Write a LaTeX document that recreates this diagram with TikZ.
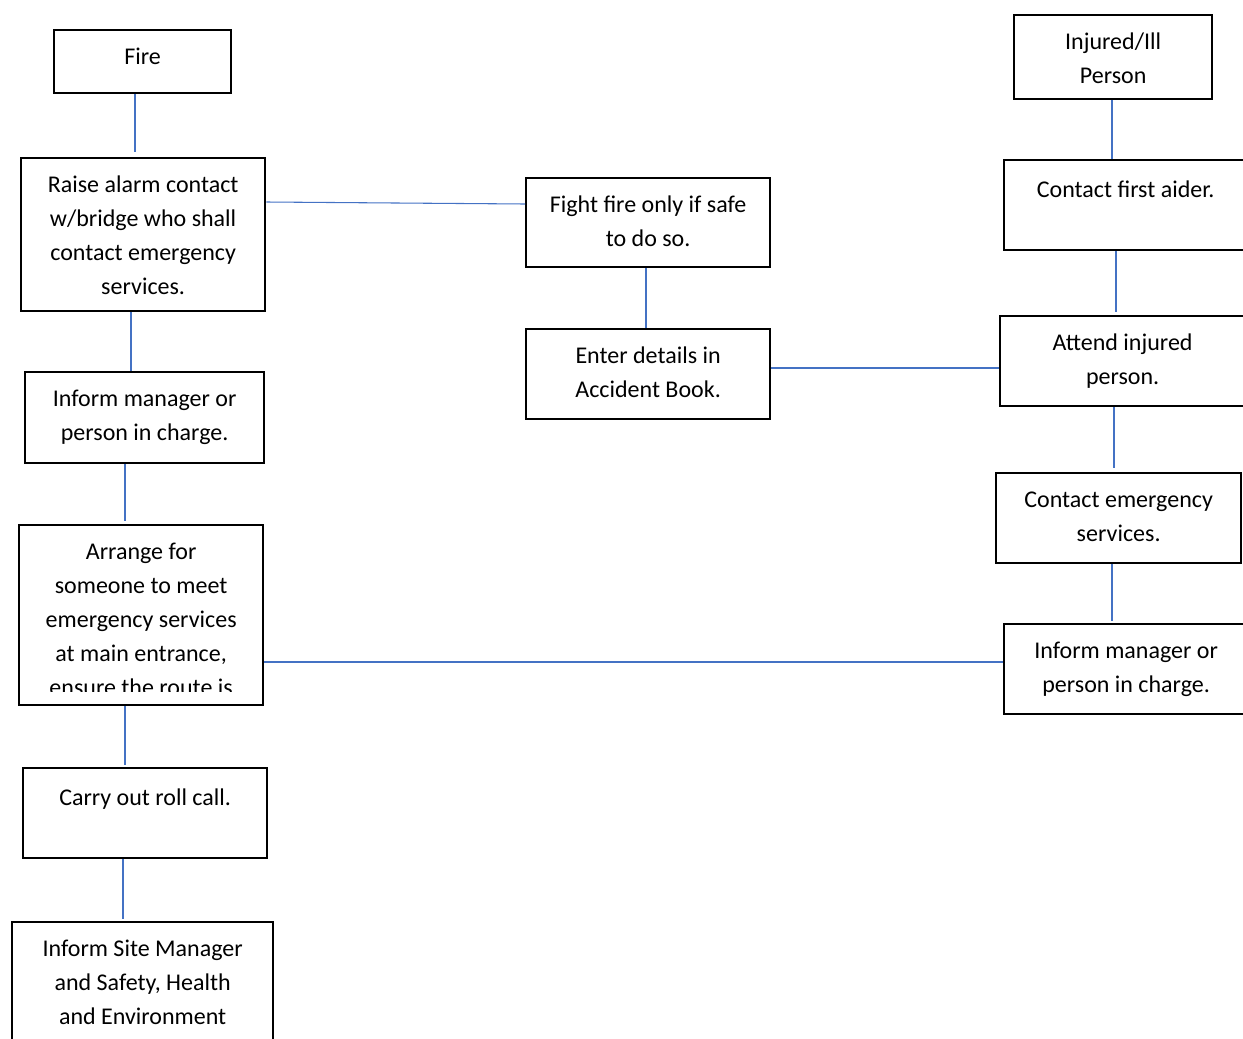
\documentclass[tikz,border=0pt]{standalone}
\usepackage{fontspec}
\setmainfont{Carlito}
\definecolor{linkblue}{HTML}{4472C4}
\newcommand{\mytxt}[1]{\parbox[t]{260pt}{\centering #1}}
\tikzset{
  box/.style n args={2}{draw=black, line width=1.7pt, rectangle, inner sep=0pt,
    anchor=north west, minimum width={#1*0.75pt}, minimum height={#2*0.75pt}},
  txt/.style={anchor=base, inner sep=0pt, font=\fontsize{18pt}{25.5pt}\selectfont},
  conn/.style={draw=linkblue, line width=0.8pt}
}
\begin{document}
\begin{tikzpicture}[x=0.75pt,y=-0.75pt]
\useasboundingbox (0,0) rectangle (1243,1039);
\clip (0,0) rectangle (1243,1039);

% boxes
\node[box={177}{63}]  (fire)   at (53,29) {};
\node[box={244}{153}] (raise)  at (20,157) {};
\node[box={239}{91}]  (infL)   at (24,371) {};
\node[box={244}{180}] (arr)    at (18,524) {};
\node[box={244}{90}]  (roll)   at (22,767) {};
\node[box={261}{139}] (site)   at (11,921) {};
\node[box={244}{89}]  (fight)  at (525,177) {};
\node[box={244}{90}]  (enter)  at (525,328) {};
\node[box={198}{84}]  (inj)    at (1013,14) {};
\node[box={243}{90}]  (first)  at (1003,159) {};
\node[box={245}{90}]  (attend) at (999,315) {};
\node[box={245}{90}]  (cem)    at (995,472) {};
\node[box={244}{90}]  (infR)   at (1003,623) {};

% texts
\node[txt] (fire-t)   at ([yshift=-26.25pt]fire.north)   {\mytxt{Fire}};
\node[txt] (raise-t)  at ([yshift=-26.25pt]raise.north)  {\mytxt{Raise alarm contact\\w/bridge who shall\\contact emergency\\services.}};
\node[txt] (infL-t)   at ([yshift=-26.25pt]infL.north)   {\mytxt{Inform manager or\\person in charge.}};
\begin{scope}
  \clip (18,524) rectangle (262,691);
  \node[txt] (arr-t) at ([yshift=-26.25pt]arr.north) {\mytxt{Arrange for\\someone to meet\\emergency services\\at main entrance,\\ensure the route is}};
\end{scope}
\node[txt] (roll-t)   at ([yshift=-28.5pt]roll.north)    {\mytxt{Carry out roll call.}};
\node[txt] (site-t)   at ([yshift=-26.25pt]site.north)   {\mytxt{Inform Site Manager\\and Safety, Health\\and Environment}};
\node[txt] (fight-t)  at ([yshift=-26.25pt]fight.north)  {\mytxt{Fight fire only if safe\\to do so.}};
\node[txt] (enter-t)  at ([yshift=-26.25pt]enter.north)  {\mytxt{Enter details in\\Accident Book.}};
\node[txt] (inj-t)    at ([yshift=-26.25pt]inj.north)    {\mytxt{Injured/Ill\\Person}};
\node[txt] (first-t)  at ([yshift=-28.5pt]first.north)   {\mytxt{Contact first aider.}};
\node[txt] (attend-t) at ([yshift=-26.25pt]attend.north) {\mytxt{Attend injured\\person.}};
\node[txt] (cem-t)    at ([yshift=-26.25pt]cem.north)    {\mytxt{Contact emergency\\services.}};
\node[txt] (infR-t)   at ([yshift=-26.25pt]infR.north)   {\mytxt{Inform manager or\\person in charge.}};

% connector guide coordinates
\coordinate (v1) at (135,0);
\coordinate (v2) at (131,0);
\coordinate (v3) at (125,0);
\coordinate (v5) at (123,0);
\coordinate (v6) at (646,0);
\coordinate (v7) at (1112,0);
\coordinate (v8) at (1116,0);
\coordinate (v9) at (1114,0);
\coordinate (ha) at (0,202);
\coordinate (hb) at (0,204);
\coordinate (h2) at (0,368);
\coordinate (h3) at (0,662);

% connectors
\draw[conn] (fire.south -| v1) -- ([yshift=3.5pt]raise.north -| v1);
\draw[conn] (raise.south -| v2) -- (infL.north -| v2);
\draw[conn] (infL.south -| v3) -- ([yshift=2.5pt]arr.north -| v3);
\draw[conn] (arr.south -| v3) -- ([yshift=1.5pt]roll.north -| v3);
\draw[conn] (roll.south -| v5) -- ([yshift=1.5pt]site.north -| v5);
\draw[conn] (raise.east |- ha) -- (fight.west |- hb);
\draw[conn] (fight.south -| v6) -- (enter.north -| v6);
\draw[conn] (enter.east |- h2) -- (attend.west |- h2);
\draw[conn] (inj.south -| v7) -- (first.north -| v7);
\draw[conn] (first.south -| v8) -- ([yshift=2pt]attend.north -| v8);
\draw[conn] (attend.south -| v9) -- ([yshift=3pt]cem.north -| v9);
\draw[conn] (cem.south -| v7) -- ([yshift=1.5pt]infR.north -| v7);
\draw[conn] (arr.east |- h3) -- (infR.west |- h3);
\end{tikzpicture}
\end{document}
